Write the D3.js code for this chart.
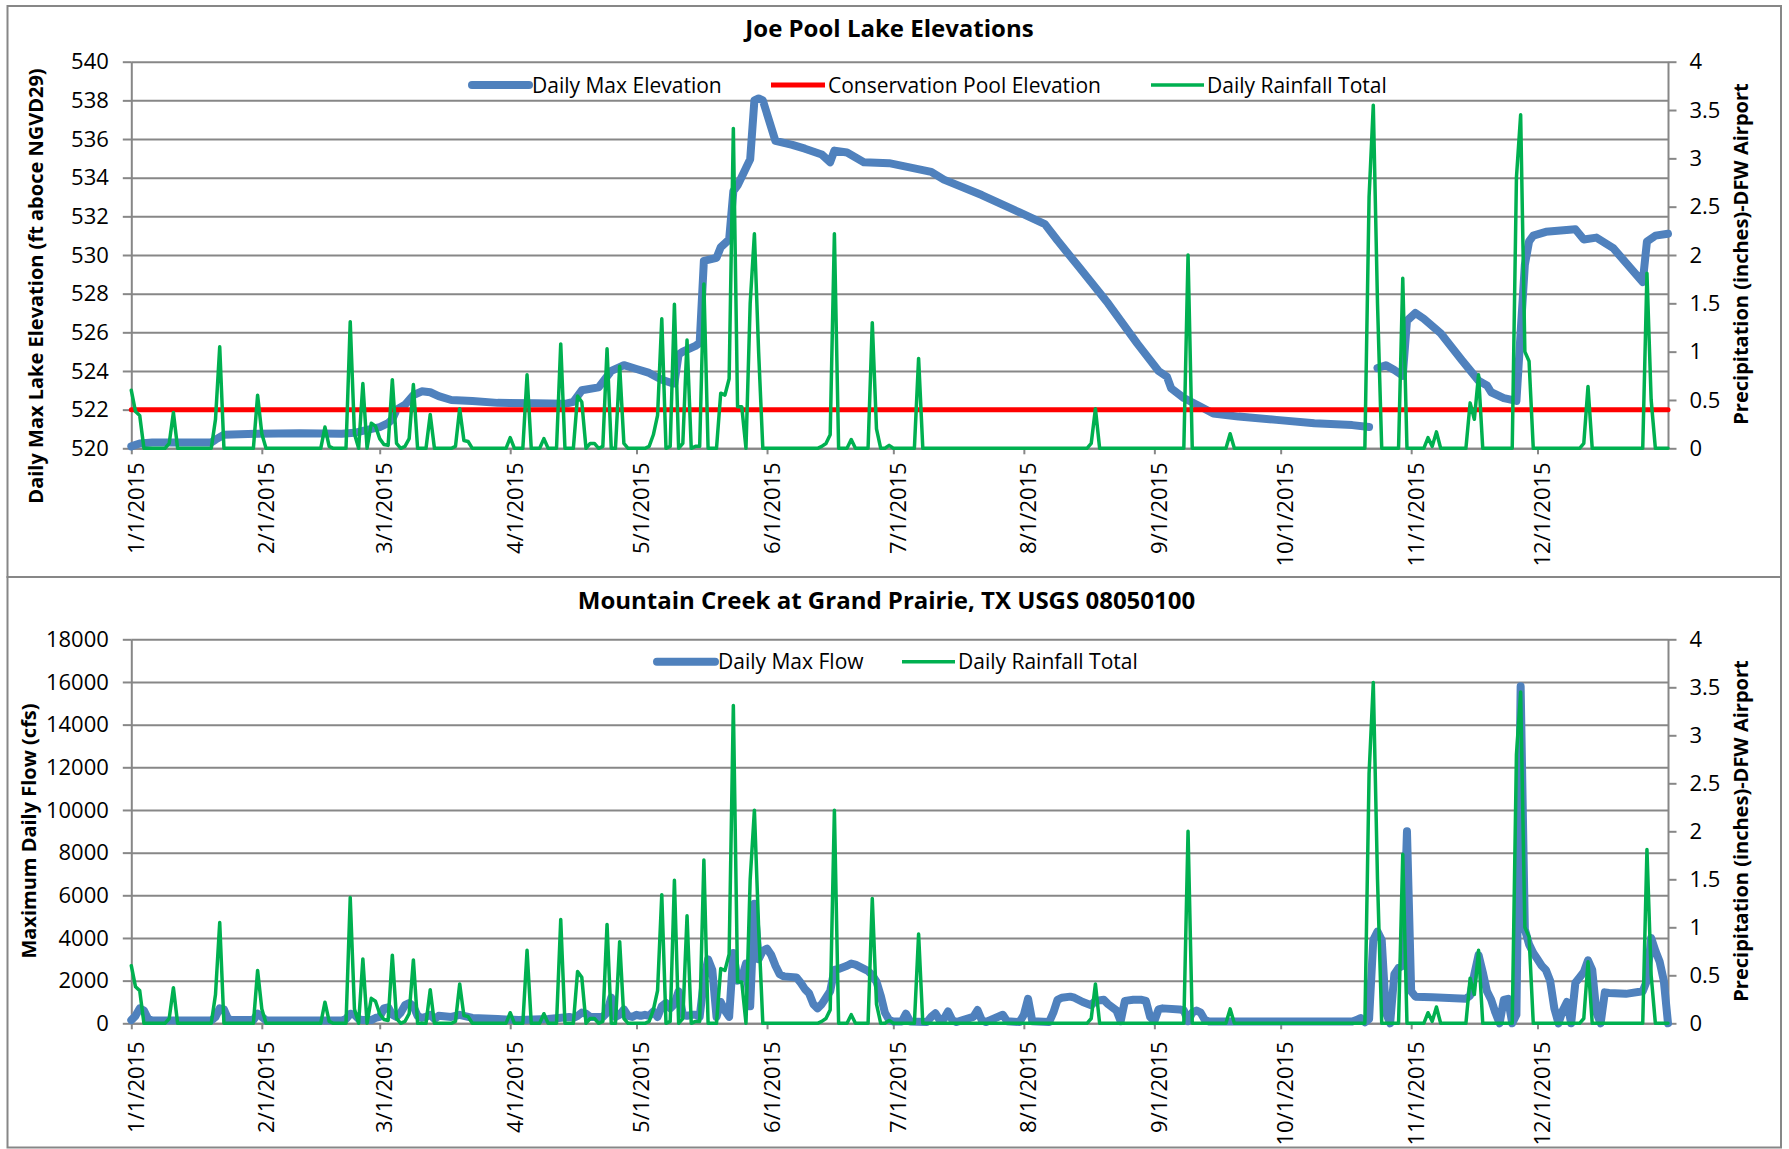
<!DOCTYPE html>
<html>
<head>
<meta charset="utf-8">
<script src="https://cdnjs.cloudflare.com/ajax/libs/d3/7.8.5/d3.min.js"></script>
<style>
  body { margin: 0; background: #fff; }
  svg { display: block; font-family: "Open Sans", sans-serif; }
</style>
</head>
<body>
<svg id="chart" width="1789" height="1149"></svg>
<script>
// ---- values ----
// daily rainfall at DFW airport (inches); days not listed are 0
var rainDates = ['1/1','1/2','1/3','1/10','1/11','1/21','1/22','1/31','2/1','2/16','2/17','2/22','2/23','2/25',
  '2/27','2/28','3/1','3/2','3/3','3/4','3/5','3/7','3/8','3/9','3/13','3/19','3/20','3/21','3/22','4/1','4/5',
  '4/9','4/13','4/17','4/18','4/20','4/21','4/23','4/24','4/27','4/28','5/4','5/5','5/6','5/7','5/9','5/10',
  '5/12','5/13','5/15','5/16','5/17','5/21','5/22','5/23','5/24','5/25','5/26','5/28','5/29','5/30','6/14',
  '6/15','6/16','6/17','6/21','6/26','6/27','6/30','7/7','8/17','8/18','9/9','9/19','10/22','10/23','10/24',
  '10/30','11/5','11/6','11/7','11/15','11/16','11/17','11/26','11/27','11/28','11/29','12/12','12/13',
  '12/27','12/28'];
var rainValues = [0.60,0.38,0.34,0.05,0.37,0.30,1.05,0.55,0.15,0.22,0.02,1.31,0.15,0.67,
  0.26,0.23,0.10,0.04,0.03,0.71,0.05,0.02,0.10,0.66,0.35,0.02,0.41,0.08,0.07,0.11,0.76,
  0.10,1.08,0.54,0.48,0.05,0.05,0.02,1.03,0.85,0.05,0.02,0.14,0.34,1.34,0.02,1.49,
  0.05,1.12,0.02,0.02,1.70,0.57,0.55,0.72,3.31,0.43,0.43,1.50,2.22,1.00,0.02,
  0.05,0.14,2.22,0.09,1.30,0.20,0.03,0.93,0.05,0.41,2.00,0.15,2.60,3.55,1.50,
  1.76,0.11,0.02,0.17,0.47,0.30,0.76,2.80,3.45,1.00,0.90,0.05,0.64,
  1.81,0.50];

// Joe Pool Lake daily max elevation (ft); null = no record
var elevDates = ['1/1','1/3','1/6','1/20','1/21','1/23','1/31','2/10','2/20','2/23','2/26','3/1','3/3','3/4',
  '3/5','3/7','3/9','3/11','3/13','3/15','3/18','3/23','3/29','4/7','4/14','4/16','4/18','4/22','4/25','4/27',
  '4/28','5/1','5/4','5/7','5/9','5/10','5/11','5/12','5/15','5/16','5/17','5/19','5/20','5/21','5/23','5/24',
  '5/25','5/27','5/28','5/29','5/30','5/31','6/3','6/7','6/10','6/14','6/16','6/17','6/20','6/24','6/30',
  '7/10','7/13','7/22','7/31','8/6','8/9','8/14','8/21','8/28','9/2','9/4','9/5','9/8','9/12','9/15','9/21',
  '9/30','10/9','10/18','10/22','10/23','10/24','10/26','10/28','10/30','10/31','11/2','11/4','11/8','11/13',
  '11/17','11/19','11/20','11/23','11/26','11/27','11/28','11/29','11/30','12/3','12/10','12/12','12/15',
  '12/19','12/26','12/27','12/29','1/1/2016'];
var elevValues = [520.1,520.25,520.3,520.3,520.45,520.7,520.75,520.78,520.75,520.8,520.95,521.1,521.3,521.5,
  522.0,522.25,522.75,522.95,522.9,522.7,522.5,522.45,522.35,522.33,522.3,522.4,523.0,523.15,524.0,524.2,
  524.3,524.1,523.9,523.55,523.4,523.35,524.85,525.0,525.3,525.45,529.7,529.8,529.85,530.4,530.8,533.3,
  533.6,534.5,534.95,538.0,538.1,538.0,535.9,535.7,535.5,535.2,534.8,535.4,535.3,534.8,534.75,
  534.3,533.9,533.1,532.2,531.6,530.75,529.4,527.5,525.4,524.0,523.7,523.1,522.6,522.15,521.8,521.64,
  521.47,521.3,521.2,521.1,null,524.15,524.3,524.05,523.75,526.6,527.0,526.7,525.95,524.57,
  523.5,523.25,522.9,522.6,522.45,526.0,529.5,530.7,531.0,531.2,531.33,530.8,530.9,
  530.35,528.6,530.7,531.0,531.1];
var conservationPool = 522;

// Mountain Creek daily max flow (cfs)
var flowDates = ['1/1','1/2','1/3','1/4','1/5','1/6','1/20','1/21','1/22','1/23','1/24','1/25','1/30','1/31',
  '2/1','2/2','2/20','2/21','2/22','2/23','2/24','2/25','2/27','2/28','3/1','3/2','3/3','3/4','3/5','3/6',
  '3/7','3/8','3/9','3/10','3/11','3/12','3/13','3/14','3/15','3/18','3/20','3/21','3/23','3/29','4/3',
  '4/10','4/15','4/16','4/17','4/18','4/19','4/20','4/22','4/23','4/24','4/25','4/26','4/27','4/28','4/29',
  '4/30','5/1','5/2','5/3','5/4','5/5','5/6','5/7','5/8','5/9','5/10','5/11','5/12','5/13','5/14','5/15',
  '5/16','5/17','5/18','5/19','5/20','5/21','5/22','5/23','5/24','5/25','5/26','5/27','5/28','5/29','5/30',
  '5/31','6/1','6/2','6/3','6/4','6/5','6/8','6/9','6/10','6/11','6/12','6/13','6/14','6/15','6/16','6/17',
  '6/18','6/20','6/21','6/22','6/24','6/25','6/26','6/27','6/28','6/29','6/30','7/1','7/3','7/4','7/5',
  '7/9','7/10','7/11','7/12','7/13','7/14','7/15','7/16','7/20','7/21','7/22','7/23','7/27','7/28','7/31',
  '8/1','8/2','8/3','8/7','8/8','8/9','8/10','8/12','8/13','8/15','8/17','8/18','8/20','8/21','8/23','8/24',
  '8/25','8/27','8/29','8/30','8/31','9/1','9/2','9/3','9/7','9/8','9/9','9/10','9/11','9/12','9/13','9/14',
  '10/18','10/19','10/20','10/21','10/22','10/23','10/24','10/25','10/26','10/27','10/28','10/29','10/30',
  '10/31','11/1','11/2','11/6','11/14','11/15','11/16','11/17','11/18','11/19','11/20','11/21','11/22',
  '11/23','11/24','11/25','11/26','11/27','11/28','11/29','11/30','12/1','12/2','12/3','12/4','12/5','12/6',
  '12/7','12/8','12/9','12/10','12/11','12/12','12/13','12/14','12/15','12/16','12/17','12/18','12/22',
  '12/26','12/27','12/28','12/29','12/30','12/31','1/1/2016'];
var flowValues = [150,350,700,600,200,130,130,300,700,650,200,150,150,450,
  300,140,130,200,450,400,200,150,150,250,300,700,750,400,300,500,
  850,950,800,350,250,300,400,200,350,300,400,350,250,200,150,
  200,300,250,350,500,450,300,300,300,500,1200,300,400,650,350,
  300,400,350,400,350,550,300,800,950,700,900,1500,400,350,400,400,
  300,2000,3000,2500,300,1000,600,300,3300,2000,2100,2800,800,5600,3000,
  3400,3500,3200,2700,2300,2200,2150,1900,1600,1400,900,700,900,1200,1500,2500,
  2550,2700,2800,2750,2550,2450,2250,1950,1300,500,150,80,80,450,80,
  60,300,470,150,200,550,150,60,300,620,150,60,400,100,60,
  400,1150,100,60,500,1100,1200,1250,1200,1000,850,1050,1100,900,600,100,
  1050,1100,1100,1050,300,100,650,700,650,600,100,500,600,500,150,80,
  80,150,250,50,200,3900,4300,3900,500,0,2300,2600,2700,
  9000,1500,1250,1220,1150,1300,2300,3200,2400,1500,1100,500,0,
  1100,1150,0,400,15800,4400,3700,3300,3000,2700,2500,2000,700,0,
  600,1000,0,1900,2150,2400,2950,2500,500,0,1450,1420,1380,
  1500,2000,4000,3400,2900,2000,0];

var elevTicks = [520, 522, 524, 526, 528, 530, 532, 534, 536, 538, 540];
var flowTicks = [0, 2000, 4000, 6000, 8000, 10000, 12000, 14000, 16000, 18000];
var rainTicks = [0, 0.5, 1, 1.5, 2, 2.5, 3, 3.5, 4];

// ---- helpers ----
var parse = d3.utcParse('%m/%d/%Y');
function day(s) { return parse(s.split('/').length === 3 ? s : s + '/2015'); }
function pairs(dates, values) {
  return dates.map(function(d, i) { return {date: day(d), value: values[i]}; });
}

var rainLookup = new Map(rainDates.map(function(d, i) { return [+day(d), rainValues[i]]; }));
var rainSeries = d3.utcDay.range(day('1/1'), d3.utcDay.offset(day('1/1/2016'), 1))
  .map(function(d) { return {date: d, value: rainLookup.has(+d) ? rainLookup.get(+d) : 0}; });
var elevSeries = pairs(elevDates, elevValues);
var flowSeries = pairs(flowDates, flowValues);
var poolSeries = [{date: day('1/1'), value: conservationPool}, {date: day('1/1/2016'), value: conservationPool}];

var BLUE = '#4F81BD', RED = '#FF0000', GREEN = '#00B050', GRID = '#878787';
var FONT = '"Open Sans", sans-serif';
var X0 = 131.3, X1 = 1668;

var svg = d3.select('#chart');
var x = d3.scaleUtc().domain([day('1/1'), day('1/1/2016')]).range([X0, X1]);
var months = d3.utcMonth.range(day('1/1'), day('1/1/2016'));

function panel(p) {
  var g = svg.append('g');
  g.append('rect').attr('x', 7.5).attr('y', p.boxTop).attr('width', 1773.5).attr('height', p.boxBottom - p.boxTop)
    .attr('fill', '#fff').attr('stroke', GRID).attr('stroke-width', 2);

  var y = d3.scaleLinear().domain(d3.extent(p.ticks)).range([p.bottom, p.top]);
  var yR = d3.scaleLinear().domain(d3.extent(rainTicks)).range([p.bottom, p.top]);

  // gridlines
  g.append('g').attr('transform', 'translate(' + X0 + ',0)')
    .call(d3.axisLeft(y).tickValues(p.ticks).tickSize(-(X1 - X0)).tickFormat(''))
    .call(function(a) { a.select('.domain').remove(); })
    .call(function(a) { a.selectAll('line').attr('stroke', GRID).attr('stroke-width', 2); });

  // left axis
  g.append('g').attr('transform', 'translate(' + X0 + ',0)')
    .call(d3.axisLeft(y).tickValues(p.ticks).tickSize(8.5).tickSizeOuter(0).tickPadding(14).tickFormat(d3.format('d')))
    .call(styleAxis);

  // right axis
  g.append('g').attr('transform', 'translate(' + X1 + ',0)')
    .call(d3.axisRight(yR).tickValues(rainTicks).tickSize(8.5).tickSizeOuter(0).tickPadding(13).tickFormat(String))
    .call(styleAxis);

  // bottom axis with rotated dates
  g.append('g').attr('transform', 'translate(0,' + p.bottom + ')')
    .call(d3.axisBottom(x).tickValues(months).tickSize(6).tickSizeOuter(0).tickFormat(d3.utcFormat('%-m/%-d/%Y')))
    .call(styleAxis)
    .call(function(a) {
      a.selectAll('text').attr('transform', 'rotate(-90)').attr('text-anchor', 'end')
        .attr('x', -p.labelGap).attr('y', 12).attr('dy', 0);
    });

  // series
  p.series.forEach(function(s) {
    var sy = s.right ? yR : y;
    g.append('path').datum(s.data)
      .attr('fill', 'none').attr('stroke', s.color).attr('stroke-width', s.width)
      .attr('stroke-linejoin', 'round').attr('stroke-linecap', 'round')
      .attr('d', d3.line().defined(function(d) { return d.value != null; })
        .x(function(d) { return x(d.date); }).y(function(d) { return sy(d.value); }));
  });

  // legend
  p.legend.forEach(function(l) {
    g.append('line').attr('x1', l.x).attr('x2', l.x + l.len).attr('y1', p.legendY).attr('y2', p.legendY)
      .attr('stroke', l.color).attr('stroke-width', l.width).attr('stroke-linecap', l.width > 5 ? 'round' : 'butt');
    g.append('text').attr('x', l.x + l.len + 3).attr('y', p.legendY + 7.5)
      .attr('font-size', 21).attr('fill', '#000').text(l.label);
  });

  // titles
  g.append('text').attr('x', p.titleX).attr('y', p.titleY).attr('text-anchor', 'middle')
    .attr('font-size', 24).attr('font-weight', 'bold').attr('fill', '#000').text(p.title);
  g.append('text').attr('transform', 'translate(' + p.leftTitleX + ',' + p.leftTitleY + ') rotate(-90)')
    .attr('text-anchor', 'middle').attr('font-size', 20).attr('font-weight', 'bold').attr('fill', '#000')
    .text(p.leftTitle);
  g.append('text').attr('transform', 'translate(1748,' + p.rightTitleY + ') rotate(-90)')
    .attr('text-anchor', 'middle').attr('font-size', 20).attr('font-weight', 'bold').attr('fill', '#000')
    .text('Precipitation (inches)-DFW Airport');
}

function styleAxis(a) {
  a.attr('font-family', FONT).attr('font-size', 22);
  a.selectAll('.domain, line').attr('stroke', GRID).attr('stroke-width', 2);
  a.selectAll('text').attr('fill', '#000');
}

panel({
  boxTop: 6, boxBottom: 577, top: 61.7, bottom: 448.3, ticks: elevTicks, labelGap: 14,
  title: 'Joe Pool Lake Elevations', titleX: 889.5, titleY: 36.5,
  leftTitle: 'Daily Max Lake Elevation (ft aboce NGVD29)', leftTitleX: 43, leftTitleY: 286, rightTitleY: 254,
  legendY: 85,
  series: [
    {data: elevSeries, color: BLUE, width: 8},
    {data: poolSeries, color: RED, width: 5},
    {data: rainSeries, color: GREEN, width: 3.5, right: true}
  ],
  legend: [
    {x: 472, len: 57, color: BLUE, width: 8, label: 'Daily Max Elevation'},
    {x: 771, len: 54, color: RED, width: 5, label: 'Conservation Pool Elevation'},
    {x: 1151, len: 53, color: GREEN, width: 3.5, label: 'Daily Rainfall Total'}
  ]
});

panel({
  boxTop: 577, boxBottom: 1147.5, top: 639.3, bottom: 1023.3, ticks: flowTicks, labelGap: 18,
  title: 'Mountain Creek at Grand Prairie, TX USGS 08050100', titleX: 886.5, titleY: 608.5,
  leftTitle: 'Maximum Daily Flow (cfs)', leftTitleX: 35.5, leftTitleY: 831, rightTitleY: 831,
  legendY: 661.7,
  series: [
    {data: flowSeries, color: BLUE, width: 8},
    {data: rainSeries, color: GREEN, width: 3.5, right: true}
  ],
  legend: [
    {x: 657, len: 58, color: BLUE, width: 8, label: 'Daily Max Flow'},
    {x: 902, len: 53, color: GREEN, width: 3.5, label: 'Daily Rainfall Total'}
  ]
});
</script>
</body>
</html>
